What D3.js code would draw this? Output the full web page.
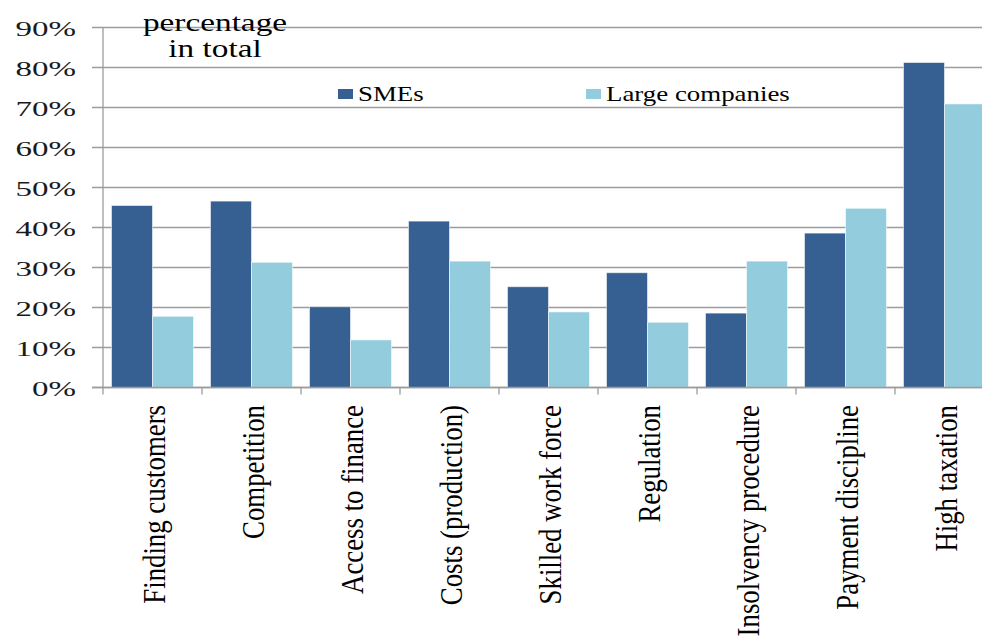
<!DOCTYPE html>
<html>
<head>
<meta charset="utf-8">
<script src="https://cdn.jsdelivr.net/npm/d3@7"></script>
<style>
  html, body { margin: 0; padding: 0; background: #fff; }
  svg { display: block; font-family: "Liberation Serif", "Times New Roman", serif; }
</style>
</head>
<body>
<svg id="chart" width="982" height="640"></svg>
<script>
// Obstacles to business, share of firms citing each one
const categories = [
  "Finding customers", "Competition", "Access to finance", "Costs (production)",
  "Skilled work force", "Regulation", "Insolvency procedure", "Payment discipline",
  "High taxation"
];
const seriesNames = ["SMEs", "Large companies"];
const smeValues   = [0.455, 0.466, 0.202, 0.416, 0.252, 0.287, 0.186, 0.386, 0.8125];
const largeValues = [0.178, 0.313, 0.119, 0.316, 0.189, 0.163, 0.316, 0.448, 0.709];
const yTicks = [0, 0.1, 0.2, 0.3, 0.4, 0.5, 0.6, 0.7, 0.8, 0.9];
const titleLines = ["percentage", "in total"];

const colors = { "SMEs": "#376092", "Large companies": "#93cddd" };

const svg = d3.select("#chart");
const plotLeft = 103, plotRight = 994, plotTop = 27.5, plotBottom = 387.5;

const x0 = d3.scaleBand().domain(categories).range([plotLeft, plotRight]).paddingInner(0).paddingOuter(0);
const x1 = d3.scaleBand().domain(seriesNames).range([0, x0.bandwidth()]).paddingInner(0).paddingOuter(0.207);
const y = d3.scaleLinear().domain([0, 0.9]).range([plotBottom, plotTop]);

const gridColor = "#9c9c9c";

// horizontal gridlines (with short outward ticks on the left)
svg.append("g")
  .selectAll("line")
  .data(yTicks)
  .join("line")
  .attr("x1", plotLeft - 11).attr("x2", 982)
  .attr("y1", d => y(d)).attr("y2", d => y(d))
  .attr("stroke", gridColor).attr("stroke-width", 1.3);

// y axis tick labels
const fmt = d3.format(".0%");
svg.append("g")
  .selectAll("text")
  .data(yTicks)
  .join("text")
  .attr("transform", d => `translate(76,${y(d) + 8}) scale(1.5,1)`)
  .attr("text-anchor", "end")
  .attr("font-size", 22)
  .attr("fill", "#1a1a1a")
  .text(d => fmt(d));

// bars
const groups = svg.append("g")
  .selectAll("g")
  .data(categories)
  .join("g")
  .attr("transform", d => `translate(${x0(d)},0)`);

groups.selectAll("rect")
  .data((d, i) => [
    { key: "SMEs", value: smeValues[i] },
    { key: "Large companies", value: largeValues[i] }
  ])
  .join("rect")
  .attr("x", d => x1(d.key))
  .attr("width", x1.bandwidth())
  .attr("y", d => y(d.value))
  .attr("height", d => y(0) - y(d.value))
  .attr("fill", d => colors[d.key])
  .attr("stroke", "#ffffff")
  .attr("stroke-opacity", 0.55)
  .attr("stroke-width", 1);

// axes lines
svg.append("line")
  .attr("x1", plotLeft).attr("x2", plotLeft)
  .attr("y1", plotTop).attr("y2", plotBottom + 7)
  .attr("stroke", gridColor).attr("stroke-width", 1.3);
svg.append("line")
  .attr("x1", plotLeft - 11).attr("x2", 982)
  .attr("y1", plotBottom).attr("y2", plotBottom)
  .attr("stroke", gridColor).attr("stroke-width", 1.3);

// category boundary ticks
svg.append("g")
  .selectAll("line")
  .data(categories.slice(1))
  .join("line")
  .attr("x1", d => x0(d)).attr("x2", d => x0(d))
  .attr("y1", plotBottom).attr("y2", plotBottom + 7)
  .attr("stroke", gridColor).attr("stroke-width", 1.3);

// rotated category labels
svg.append("g")
  .selectAll("text")
  .data(categories)
  .join("text")
  .attr("transform", d => `translate(${x0(d) + x0.bandwidth() / 2 + 12},405) scale(1.2,1) rotate(-90)`)
  .attr("text-anchor", "end")
  .attr("font-size", 26.8)
  .attr("fill", "#000")
  .text(d => d);

// title in the top-left of the plot
svg.append("g")
  .selectAll("text")
  .data(titleLines)
  .join("text")
  .attr("transform", (d, i) => `translate(215,${31 + i * 26}) scale(1.28,1)`)
  .attr("text-anchor", "middle")
  .attr("font-size", 26)
  .attr("fill", "#000")
  .text(d => d);

// legend
const legendX = { "SMEs": 338, "Large companies": 586 };
const legend = svg.append("g")
  .selectAll("g")
  .data(seriesNames)
  .join("g")
  .attr("transform", d => `translate(${legendX[d]},89)`);
legend.append("rect")
  .attr("width", 15).attr("height", 10)
  .attr("fill", d => colors[d]);
legend.append("text")
  .attr("transform", "translate(20,12) scale(1.28,1)")
  .attr("font-size", 21)
  .attr("fill", "#000")
  .text(d => d);
</script>
</body>
</html>
